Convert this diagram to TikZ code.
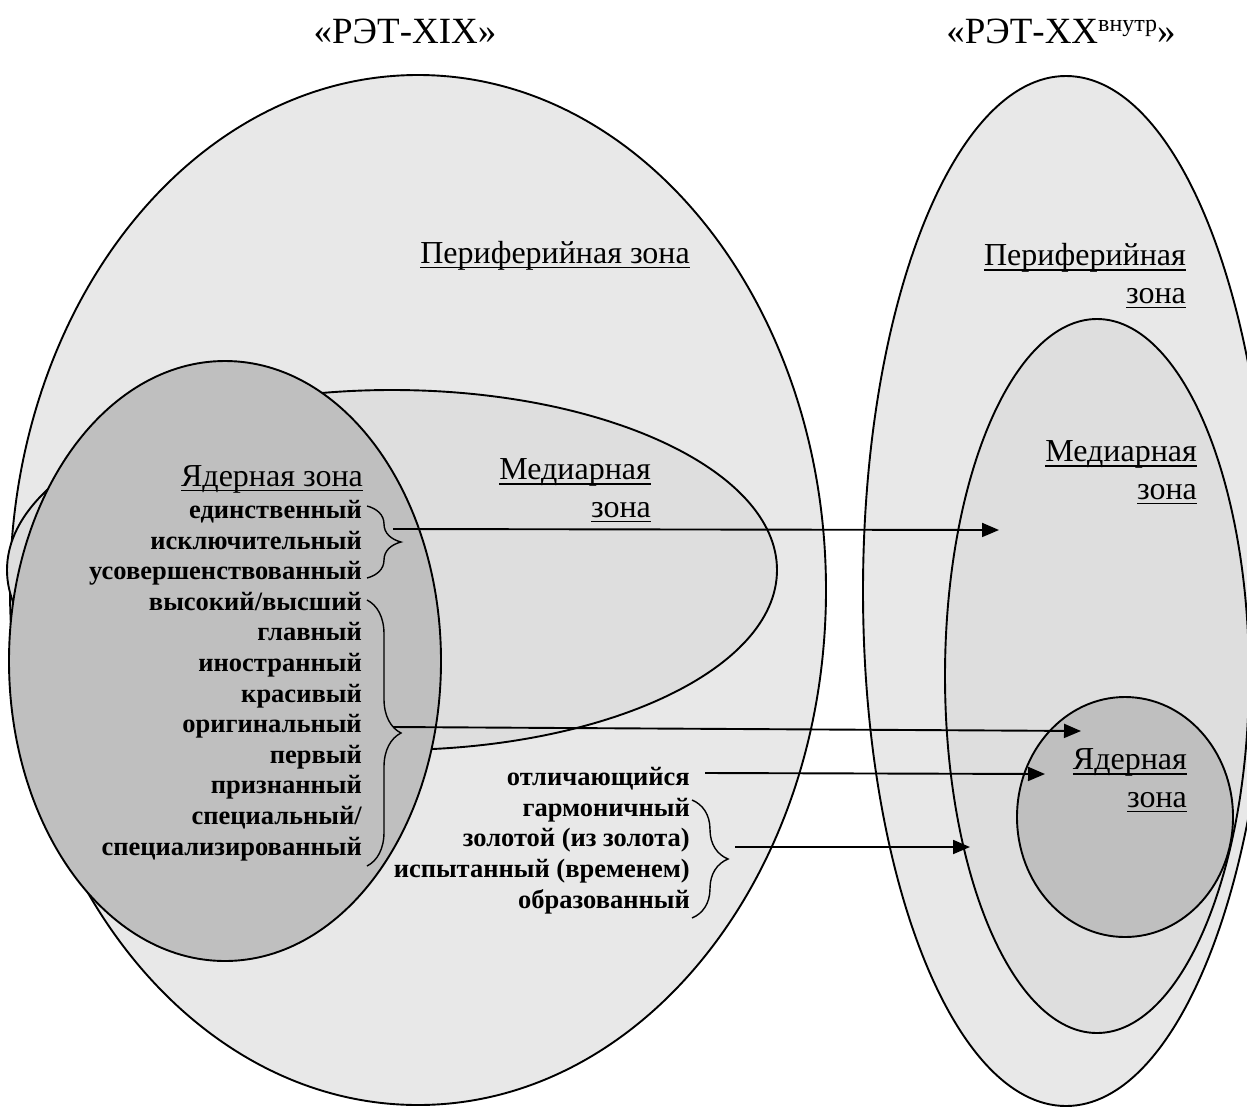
\documentclass[tikz,border=0pt]{standalone}
\usepackage{fontspec}
\setmainfont{Liberation Serif}
\usetikzlibrary{arrows.meta,decorations.pathreplacing}
% underlined label text: rule below the baseline, as wide as the text
\newsavebox\zlbox
\newcommand\zlu[1]{\sbox\zlbox{#1}\leavevmode\rlap{\rule[-5.4pt]{\wd\zlbox}{1.8pt}}\usebox\zlbox}
% small raised index after a title
\newcommand\zlsup[1]{\raisebox{12pt}{\fontsize{24}{24}\selectfont #1}}
\definecolor{periph}{gray}{0.91}
\definecolor{mediar}{gray}{0.87}
\definecolor{core}{gray}{0.75}
\begin{document}
\begin{tikzpicture}[x=1pt,y=-1pt,
  zone/.style={draw=black,line width=1.9pt},
  lbl/.style={font=\fontsize{32}{37.5}\selectfont,align=right,inner sep=0pt,anchor=base east},
  wlist/.style={font=\fontsize{26.5}{30.6}\selectfont\bfseries,align=right,inner sep=0pt,anchor=base east},
  ttl/.style={font=\fontsize{37}{42}\selectfont,inner sep=0pt,anchor=base},
  link/.style={line width=1.9pt,-{Triangle[length=17pt,width=14pt]}},
  grp/.style={decorate,decoration={brace,amplitude=#1},line width=1.4pt}]
\useasboundingbox (0,0) rectangle (1247,1106);
\clip (0,0) rectangle (1247,1106);
\fill[white] (0,0) rectangle (1247,1106);

% titles
\node[ttl] (t1) at (405,43) {«РЭТ-XIX»};
\node[ttl] (t2) at (1061,43) {«РЭТ-XX\zlsup{внутр}»};

% left system of zones
\draw[zone,fill=periph] (418,590) ellipse [x radius=408pt,y radius=515pt];
\draw[zone,fill=mediar] (392,570) ellipse [x radius=385pt,y radius=180pt];
\draw[zone,fill=core] (225,661) ellipse [x radius=216pt,y radius=300pt];

% right system of zones
\draw[zone,fill=periph] (1066,591) ellipse [x radius=203pt,y radius=515pt];
\draw[zone,fill=mediar] (1097,676) ellipse [x radius=152pt,y radius=357pt];
\draw[zone,fill=core] (1125,817) ellipse [x radius=108pt,y radius=120pt];

% zone labels (anchored at the baseline of the last line)
\node[lbl] (pz1) at (690,263) {\zlu{Периферийная зона}};
\node[lbl] (mz1) at (651,517) {\zlu{Медиарная}\\\zlu{зона}};
\node[lbl] (yz1) at (363,486) {\zlu{Ядерная зона}};
\node[lbl] (pz2) at (1186,303) {\zlu{Периферийная}\\\zlu{зона}};
\node[lbl] (mz2) at (1197,499) {\zlu{Медиарная}\\\zlu{зона}};
\node[lbl] (yz2) at (1187,807) {\zlu{Ядерная}\\\zlu{зона}};

% word lists
\node[wlist] (w1) at (362,855) {единственный\\исключительный\\усовершенствованный\\высокий/высший\\главный\\иностранный\\красивый\\оригинальный\\первый\\признанный\\специальный/\\специализированный};
\node[wlist] (w2) at (690,785) {отличающийся};
\node[wlist] (w3) at (690,908) {гармоничный\\золотой (из золота)\\испытанный (временем)\\образованный};

% braces
\draw[grp=34pt] (367,506) -- (367,578);
\draw[grp=34pt] (367,600) -- (367,866);
\draw[grp=36pt] (692,800) -- (692,918);

% arrow ends
\coordinate (s1) at (393,529);
\coordinate (e1) at (999,530);
\coordinate (s2) at (393,727);
\coordinate (e2) at (1081,731);
\coordinate (s3) at (705,773);
\coordinate (e3) at (1045,774);
\coordinate (s4) at (735,847);
\coordinate (e4) at (970,847);

\draw[link] (s1) -- (e1);
\draw[link] (s2) -- (e2);
\draw[link] (s3) -- (e3);
\draw[link] (s4) -- (e4);
\end{tikzpicture}
\end{document}
